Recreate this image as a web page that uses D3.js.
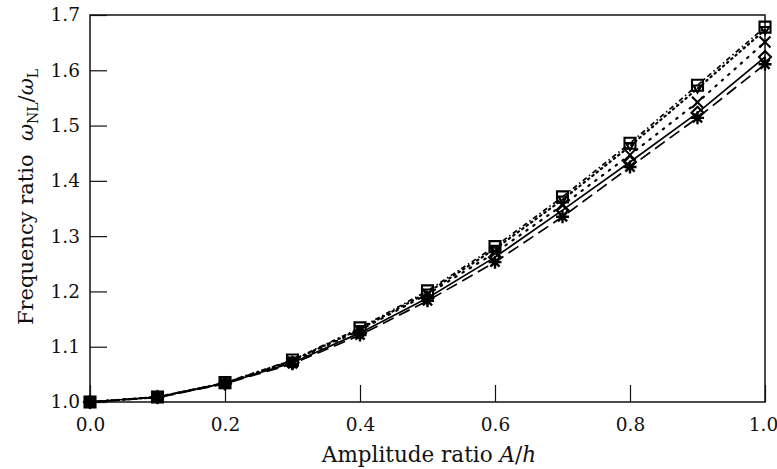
<!DOCTYPE html>
<html><head><meta charset="utf-8">
<script src="https://cdn.jsdelivr.net/npm/d3@7"></script>
<style>body{margin:0;background:#fff}svg{display:block}</style>
</head><body><svg id="c" width="777" height="469"></svg>
<script>
const amp = [0, 0.1, 0.2, 0.3, 0.4, 0.5, 0.6, 0.7, 0.8, 0.9, 1.0];
const sqVals   = [1.000, 1.009, 1.035, 1.076, 1.134, 1.201, 1.281, 1.371, 1.468, 1.573, 1.678];
const triVals  = [1.000, 1.009, 1.034, 1.075, 1.132, 1.198, 1.277, 1.366, 1.463, 1.567, 1.673];
const xVals    = [1.000, 1.009, 1.034, 1.073, 1.130, 1.195, 1.270, 1.356, 1.447, 1.542, 1.651];
const dmVals   = [1.000, 1.009, 1.034, 1.071, 1.125, 1.188, 1.262, 1.347, 1.434, 1.523, 1.624];
const stVals   = [1.000, 1.008, 1.033, 1.069, 1.121, 1.183, 1.253, 1.335, 1.425, 1.514, 1.611];
const xTicks = [0, 0.2, 0.4, 0.6, 0.8, 1.0];
const yTicks = [1.0, 1.1, 1.2, 1.3, 1.4, 1.5, 1.6, 1.7];

const series = [
  {vals: sqVals,  dash: "5,3,1.5,3", marker: "square"},
  {vals: triVals, dash: "1.5,4", marker: "tri"},
  {vals: xVals,   dash: "1.5,7", marker: "x"},
  {vals: dmVals,  dash: null,    marker: "diamond"},
  {vals: stVals,  dash: "12,6",  marker: "star"}
];

const svg = d3.select("#c");
const L = 90, R = 765, T = 15, B = 402;
const x = d3.scaleLinear().domain([0, 1]).range([L, R]);
const y = d3.scaleLinear().domain([1.0, 1.7]).range([B, T]);
const font = "'DejaVu Serif', 'Liberation Serif', serif";

// frame
svg.append("rect").attr("x", L).attr("y", T).attr("width", R - L).attr("height", B - T)
  .attr("fill", "none").attr("stroke", "#111").attr("stroke-width", 1.5);

// x axis
const xa = svg.append("g").attr("transform", `translate(0,${B})`)
  .call(d3.axisBottom(x).tickValues(xTicks).tickFormat(d3.format(".1f")).tickSizeInner(-17).tickSizeOuter(0).tickPadding(16));
xa.select(".domain").remove();
xa.selectAll("line").attr("stroke", "#111").attr("stroke-width", 1.2);
xa.selectAll("text").attr("font-family", font).attr("font-size", 18.5).attr("fill", "#111")
  .attr("dx", d => d === 1 ? -2 : 0);

const ya = svg.append("g").attr("transform", `translate(${L},0)`)
  .call(d3.axisLeft(y).tickValues(yTicks).tickFormat(d3.format(".1f")).tickSizeInner(-17).tickSizeOuter(0).tickPadding(10));
ya.select(".domain").remove();
ya.selectAll("line").attr("stroke", "#111").attr("stroke-width", 1.2);
ya.selectAll("text").attr("font-family", font).attr("font-size", 18.5).attr("fill", "#111");

// labels
const xl = svg.append("text").attr("x", 429).attr("y", 462).attr("text-anchor", "middle")
  .attr("font-family", font).attr("font-size", 21.5).attr("fill", "#111");
xl.append("tspan").text("Amplitude ratio ");
xl.append("tspan").attr("font-style", "italic").text("A");
xl.append("tspan").text("/");
xl.append("tspan").attr("font-style", "italic").text("h");

const yl = svg.append("text").attr("text-anchor", "start")
  .attr("font-family", font).attr("font-size", 21).attr("fill", "#111");
yl.append("tspan").text("Frequency ratio\u00a0\u00a0");
yl.append("tspan").attr("font-style", "italic").text("ω");
yl.append("tspan").attr("font-size", 14).attr("dy", 5).text("NL");
yl.append("tspan").attr("dy", -5).text("/");
yl.append("tspan").attr("font-style", "italic").text("ω");
yl.append("tspan").attr("font-size", 14).attr("dy", 5).text("L");
const ylen = yl.node().getComputedTextLength();
yl.attr("transform", `translate(33,${197 + ylen / 2}) rotate(-90)`);

// lines
const line = d3.line().x((d, i) => x(amp[i])).y(d => y(d));
series.forEach(s => {
  const dotted = s.dash && s.dash.startsWith("1.5");
  svg.append("path").attr("d", line(s.vals)).attr("fill", "none")
    .attr("stroke", "#000").attr("stroke-width", dotted ? 2.2 : 1.7)
    .attr("stroke-linecap", dotted ? "round" : "butt")
    .attr("stroke-dasharray", s.dash);
});

// markers
function markerPath(type) {
  const p = d3.path();
  if (type === "square") { p.rect(-5.5, -5.5, 11, 11); }
  else if (type === "tri") { p.moveTo(-4, -3); p.lineTo(4, -3); p.lineTo(0, 4); p.closePath(); }
  else if (type === "x") { p.moveTo(-5.5, -5.5); p.lineTo(5.5, 5.5); p.moveTo(-5.5, 5.5); p.lineTo(5.5, -5.5); }
  else if (type === "diamond") { p.moveTo(0, -6); p.lineTo(6, 0); p.lineTo(0, 6); p.lineTo(-6, 0); p.closePath(); }
  else if (type === "star") {
    for (let k = 0; k < 4; k++) { const a = k * Math.PI / 4; p.moveTo(-6.5 * Math.cos(a), -6.5 * Math.sin(a)); p.lineTo(6.5 * Math.cos(a), 6.5 * Math.sin(a)); }
  }
  return p.toString();
}
series.forEach(s => {
  svg.append("g").selectAll("path").data(s.vals).join("path")
    .attr("transform", (d, i) => `translate(${x(amp[i])},${y(d)})`)
    .attr("d", markerPath(s.marker))
    .attr("fill", "none").attr("stroke", "#000").attr("stroke-width", s.marker === "star" ? 2.4 : 2.1);
});
</script></body></html>
